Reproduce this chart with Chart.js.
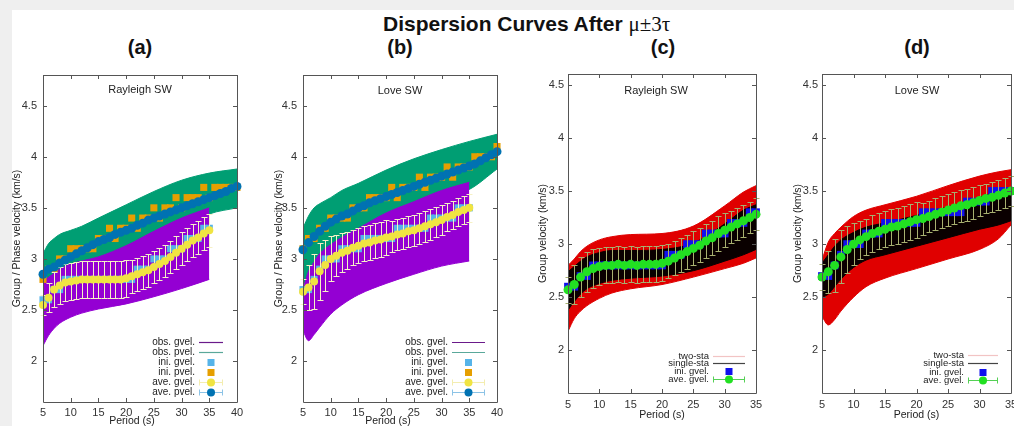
<!DOCTYPE html>
<html>
<head>
<meta charset="utf-8">
<script src="https://cdn.jsdelivr.net/npm/chart.js@4.4.0/dist/chart.umd.min.js"></script>
<style>
html, body { margin: 0; padding: 0; width: 1014px; height: 426px; overflow: hidden; background: #efefef; }
#sheet { position: absolute; left: 12px; top: 10px; width: 1002px; height: 416px; background: #fff; }
canvas { position: absolute; }
.letter { position: absolute; font: bold 20px "Liberation Sans", Arial, sans-serif; line-height: 20px; color: #111; transform: translate(-50%, -50%); white-space: nowrap; }
#title { position: absolute; left: 383px; top: 12px; font: bold 21px "Liberation Sans", Arial, sans-serif; line-height: 21px; color: #111; white-space: nowrap; }
#title span { font: 21px "Liberation Serif", "DejaVu Serif", serif; }
</style>
</head>
<body>
<div id="sheet"></div>
<div id="title">Dispersion Curves After <span>μ±3τ</span></div>
<div class="letter" style="left:140px;top:47px">(a)</div>
<div class="letter" style="left:400px;top:47px">(b)</div>
<div class="letter" style="left:663px;top:47px">(c)</div>
<div class="letter" style="left:917px;top:47px">(d)</div>
<canvas id="chartA"></canvas>
<canvas id="chartB"></canvas>
<canvas id="chartC"></canvas>
<canvas id="chartD"></canvas>
<script>
const FONT = '"Liberation Sans", Arial, sans-serif';

// Periods (s)
const perAB = [5,6,7,8,9,10,11,12,13,14,15,16,17,18,19,20,21,22,23,24,25,26,27,28,29,30,31,32,33,34,35,36,37,38,39,40];
const perCD = [5,6,7,8,9,10,11,12,13,14,15,16,17,18,19,20,21,22,23,24,25,26,27,28,29,30,31,32,33,34,35];
const bandPerP = [5,6,7,8,10,12,15,20,25,30,35,40];
const bandPerG = [5,6,7,8,10,12,15,20,25,30,35];
const bandPerCD = [5,6,7,8,10,12,15,20,25,30,33,35];

// Tick labels
const xTicksAB = [5,10,15,20,25,30,35,40];
const xTicksCD = [5,10,15,20,25,30,35];
const yTicks = [2,2.5,3,3.5,4,4.5];

// (a) Rayleigh, group + phase
const obsPvelUpA = [3.05,3.15,3.2,3.24,3.28,3.32,3.4,3.53,3.66,3.77,3.84,3.88];
const obsPvelLoA = [2.62,2.66,2.7,2.75,2.8,2.85,2.95,3.1,3.2,3.3,3.44,3.5];
const obsGvelUpA = [2.78,2.82,2.86,2.9,2.95,2.98,3.02,3.13,3.27,3.4,3.5];
const obsGvelLoA = [2.15,2.25,2.32,2.37,2.43,2.47,2.51,2.56,2.63,2.71,2.8];
const iniGvelA = [2.6,2.6,2.7,2.7,2.8,2.8,2.8,2.8,2.8,2.8,2.8,2.8,2.8,2.8,2.8,2.8,2.8,2.9,2.9,2.9,3.0,3.0,3.0,3.1,3.1,3.1,3.2,3.2,3.2,3.3,3.3];
const iniPvelA = [2.8,2.9,2.9,3.0,3.0,3.1,3.1,3.1,3.1,3.1,3.2,3.2,3.3,3.2,3.3,3.3,3.4,3.3,3.4,3.4,3.5,3.4,3.5,3.5,3.6,3.5,3.6,3.6,3.6,3.7,3.6,3.7,3.7,3.7,3.7,3.7];
const aveGvelA = [2.55,2.62,2.7,2.74,2.77,2.78,2.79,2.8,2.8,2.8,2.8,2.8,2.8,2.8,2.8,2.81,2.83,2.85,2.87,2.89,2.92,2.95,2.98,3.02,3.06,3.1,3.14,3.18,3.21,3.25,3.28];
const errGvelA = [0.1,0.14,0.17,0.18,0.18,0.18,0.18,0.18,0.18,0.18,0.18,0.18,0.18,0.18,0.18,0.18,0.16,0.16,0.16,0.16,0.16,0.16,0.16,0.16,0.16,0.16,0.16,0.16,0.16,0.16,0.16];
const avePvelA = [2.85,2.9,2.92,2.96,2.99,3.02,3.05,3.08,3.11,3.14,3.17,3.19,3.21,3.24,3.26,3.28,3.3,3.33,3.35,3.38,3.4,3.42,3.44,3.46,3.48,3.5,3.52,3.54,3.56,3.58,3.6,3.62,3.64,3.66,3.69,3.71];

// (b) Love, group + phase
const obsPvelUpB = [3.3,3.42,3.5,3.54,3.6,3.67,3.74,3.87,3.98,4.07,4.15,4.22];
const obsPvelLoB = [2.75,2.8,2.9,3.0,3.1,3.2,3.3,3.4,3.5,3.6,3.68,3.88];
const obsGvelUpB = [2.7,2.88,2.97,3.05,3.14,3.21,3.3,3.45,3.56,3.67,3.75];
const obsGvelLoB = [2.3,2.2,2.26,2.33,2.46,2.55,2.65,2.76,2.85,2.93,2.98];
const iniGvelB = [2.7,2.7,2.8,2.9,3.0,3.0,3.0,3.1,3.1,3.1,3.1,3.2,3.2,3.2,3.2,3.2,3.2,3.3,3.3,3.3,3.3,3.3,3.3,3.4,3.4,3.4,3.4,3.4,3.5,3.5,3.5];
const iniPvelB = [3.1,3.2,3.2,3.3,3.3,3.4,3.4,3.4,3.4,3.5,3.5,3.5,3.6,3.6,3.6,3.6,3.7,3.6,3.7,3.7,3.7,3.8,3.7,3.8,3.8,3.8,3.9,3.8,3.9,3.9,3.9,4.0,4.0,4.0,4.0,4.1];
const aveGvelB = [2.68,2.72,2.78,2.88,2.94,3.0,3.03,3.06,3.08,3.11,3.13,3.15,3.16,3.18,3.19,3.21,3.22,3.24,3.25,3.27,3.28,3.3,3.32,3.34,3.36,3.38,3.41,3.43,3.46,3.48,3.5];
const errGvelB = [0.12,0.22,0.27,0.28,0.25,0.22,0.2,0.19,0.18,0.17,0.17,0.17,0.17,0.17,0.17,0.17,0.15,0.15,0.15,0.15,0.15,0.15,0.15,0.15,0.15,0.15,0.14,0.14,0.14,0.14,0.14];
const avePvelB = [3.09,3.16,3.22,3.27,3.32,3.36,3.39,3.42,3.44,3.47,3.5,3.52,3.55,3.57,3.59,3.61,3.63,3.65,3.67,3.69,3.71,3.73,3.75,3.77,3.79,3.81,3.83,3.85,3.87,3.89,3.91,3.93,3.96,3.99,4.02,4.05];

// (c) Rayleigh, group only
const twoStaUpC = [2.8,2.86,2.93,2.98,3.04,3.07,3.09,3.1,3.17,3.36,3.49,3.55];
const twoStaLoC = [2.18,2.3,2.37,2.42,2.49,2.54,2.58,2.62,2.69,2.77,2.82,2.87];
const singleUpC = [2.74,2.79,2.84,2.88,2.92,2.94,2.94,2.95,3.01,3.19,3.32,3.37];
const singleLoC = [2.38,2.46,2.53,2.58,2.63,2.66,2.68,2.7,2.75,2.84,2.9,2.95];
const iniGvelC = [2.6,2.6,2.7,2.7,2.8,2.8,2.8,2.8,2.8,2.8,2.8,2.8,2.8,2.8,2.8,2.8,2.9,2.9,2.9,3.0,3.0,3.0,3.1,3.1,3.1,3.1,3.2,3.2,3.2,3.3,3.3];
const aveGvelC = [2.57,2.62,2.69,2.74,2.77,2.79,2.8,2.8,2.81,2.8,2.81,2.8,2.81,2.81,2.81,2.82,2.84,2.87,2.9,2.93,2.96,2.99,3.03,3.06,3.1,3.13,3.16,3.19,3.22,3.25,3.28];
const errGvelC = [0.12,0.18,0.19,0.19,0.18,0.17,0.17,0.17,0.17,0.17,0.17,0.17,0.17,0.17,0.17,0.17,0.16,0.16,0.16,0.16,0.16,0.16,0.16,0.16,0.16,0.16,0.15,0.15,0.15,0.15,0.15];

// (d) Love, group only
const twoStaUpD = [2.85,3.02,3.1,3.16,3.26,3.32,3.37,3.45,3.55,3.64,3.68,3.7];
const twoStaLoD = [2.32,2.24,2.29,2.37,2.5,2.6,2.68,2.77,2.86,2.95,3.05,3.18];
const singleUpD = [2.82,2.9,2.98,3.04,3.11,3.16,3.2,3.27,3.35,3.44,3.5,3.52];
const singleLoD = [2.5,2.53,2.6,2.67,2.78,2.85,2.9,2.98,3.06,3.14,3.18,3.22];
const iniGvelD = [2.7,2.7,2.8,2.9,3.0,3.0,3.0,3.1,3.1,3.1,3.2,3.2,3.2,3.2,3.2,3.2,3.3,3.3,3.3,3.3,3.3,3.3,3.3,3.4,3.4,3.4,3.4,3.5,3.5,3.5,3.5];
const aveGvelD = [2.69,2.74,2.8,2.88,2.95,3.0,3.04,3.07,3.1,3.12,3.14,3.16,3.17,3.19,3.21,3.23,3.24,3.26,3.28,3.3,3.32,3.34,3.36,3.37,3.39,3.41,3.43,3.44,3.46,3.48,3.5];
const errGvelD = [0.12,0.2,0.25,0.25,0.22,0.2,0.18,0.17,0.17,0.17,0.17,0.17,0.17,0.17,0.17,0.17,0.15,0.15,0.15,0.15,0.15,0.15,0.15,0.15,0.15,0.15,0.14,0.14,0.14,0.14,0.14];

// colours
const PURPLE = '#9400d3', TEAL = '#009e73', SKY = '#56b4e9', ORANGE = '#e69f00', YELLOW = '#f0e442', NAVY = '#0072b2';
const RED = '#e00000', BLACK = '#0a0000', BLUE = '#1010ee', LIME = '#22e022';

function pts(xs, ys) {
    return ys.map((y, i) => ({ x: xs[i], y: y }));
}

function band(xs, up, lo, color, order) {
    return [
        { data: pts(xs, up), borderWidth: 1, borderColor: color, pointRadius: 0, fill: '+1', backgroundColor: color, order: order, cubicInterpolationMode: 'monotone' },
        { data: pts(xs, lo), borderWidth: 1, borderColor: color, pointRadius: 0, fill: false, order: order, cubicInterpolationMode: 'monotone' },
    ];
}

function marks(xs, ys, color, style, r, order, errs, errColor) {
    return {
        data: pts(xs, ys), showLine: false, pointStyle: style, pointRadius: r, pointHoverRadius: r,
        pointBackgroundColor: color, pointBorderWidth: 0, borderColor: color, backgroundColor: color,
        order: order, clip: false, errs: errs, errColor: errColor,
    };
}

// error bars, drawn just before the dataset they belong to
const errBars = {
    id: 'errBars',
    beforeDatasetDraw(chart, args) {
        const ds = chart.data.datasets[args.index];
        if (!ds.errs) return;
        const xs = chart.scales.x, ys = chart.scales.y, ctx = chart.ctx;
        ctx.save();
        ctx.strokeStyle = ds.errColor;
        ctx.lineWidth = 1;
        ctx.beginPath();
        ds.data.forEach((p, i) => {
            const px = Math.round(xs.getPixelForValue(p.x)) + 0.5;
            const y1 = Math.round(ys.getPixelForValue(p.y + ds.errs[i])) + 0.5;
            const y2 = Math.round(ys.getPixelForValue(p.y - ds.errs[i])) + 0.5;
            ctx.moveTo(px, y1); ctx.lineTo(px, y2);
            ctx.moveTo(px - 3, y1); ctx.lineTo(px + 3, y1);
            ctx.moveTo(px - 3, y2); ctx.lineTo(px + 3, y2);
        });
        ctx.stroke();
        ctx.restore();
    },
};

// gnuplot-like frame, inner tics, titles and key
function frame(cfg, xTicks) {
    return {
        id: 'frame',
        afterDatasetsDraw(chart) {
            const ctx = chart.ctx, a = chart.chartArea;
            const xs = chart.scales.x, ys = chart.scales.y;
            ctx.save();
            ctx.strokeStyle = '#555';
            ctx.lineWidth = 1;
            ctx.beginPath();
            ctx.rect(Math.round(a.left) + 0.5, Math.round(a.top) + 0.5, Math.round(a.right - a.left), Math.round(a.bottom - a.top));
            xTicks.forEach(v => {
                const px = Math.round(xs.getPixelForValue(v)) + 0.5;
                ctx.moveTo(px, a.bottom); ctx.lineTo(px, a.bottom - 4);
                ctx.moveTo(px, a.top); ctx.lineTo(px, a.top + 4);
            });
            yTicks.forEach(v => {
                const py = Math.round(ys.getPixelForValue(v)) + 0.5;
                ctx.moveTo(a.left, py); ctx.lineTo(a.left + 4, py);
                ctx.moveTo(a.right, py); ctx.lineTo(a.right - 4, py);
            });
            ctx.stroke();

            ctx.fillStyle = '#222';
            ctx.textAlign = 'center';
            ctx.textBaseline = 'middle';
            ctx.font = '11px ' + FONT;
            ctx.fillText(cfg.sub, cfg.subX - chart.canvas.offsetLeft, a.top + cfg.subDy);
            ctx.font = '10.5px ' + FONT;
            ctx.fillText('Period (s)', (a.left + a.right) / 2 + cfg.xTitleDx, a.bottom + cfg.xTitleDy);
            ctx.save();
            ctx.translate(a.left + cfg.yTitleDx, (a.top + a.bottom) / 2);
            ctx.rotate(-Math.PI / 2);
            ctx.fillText(cfg.yTitle, 0, 0);
            ctx.restore();

            const k = cfg.key;
            const sEnd = a.right - k.gap, sBeg = sEnd - k.len, sMid = (sBeg + sEnd) / 2;
            ctx.font = k.size + 'px ' + FONT;
            ctx.textAlign = 'right';
            k.items.forEach((it, i) => {
                const y = Math.round(a.bottom - k.bottom - (k.items.length - 1 - i) * k.step) + 0.5;
                ctx.fillStyle = '#222';
                ctx.fillText(it.text, sBeg - 4, y);
                if (it.kind === 'line' || it.kind === 'err') {
                    ctx.strokeStyle = it.line;
                    ctx.lineWidth = it.kind === 'line' ? 1.2 : 1;
                    ctx.beginPath();
                    ctx.moveTo(sBeg, y); ctx.lineTo(sEnd, y);
                    if (it.kind === 'err') {
                        ctx.moveTo(sBeg + 0.5, y - 3); ctx.lineTo(sBeg + 0.5, y + 3);
                        ctx.moveTo(sEnd - 0.5, y - 3); ctx.lineTo(sEnd - 0.5, y + 3);
                    }
                    ctx.stroke();
                }
                if (it.kind === 'rect') {
                    ctx.fillStyle = it.color;
                    ctx.fillRect(sMid - it.r, y - it.r, it.r * 2, it.r * 2);
                }
                if (it.kind === 'err') {
                    ctx.fillStyle = it.color;
                    ctx.beginPath();
                    ctx.arc(sMid, y, it.r, 0, Math.PI * 2);
                    ctx.fill();
                }
            });
            ctx.restore();
        },
    };
}

function makeChart(id, box, xMax, yMin, yMax, xTicks, datasets, cfg) {
    const cv = document.getElementById(id);
    cv.width = box.r - box.l + 44 + 8;
    cv.height = box.b - box.t + 4 + 30;
    cv.style.left = (box.l - 44) + 'px';
    cv.style.top = (box.t - 4) + 'px';
    return new Chart(cv, {
        type: 'line',
        data: { datasets: datasets },
        options: {
            responsive: false,
            animation: false,
            devicePixelRatio: 1,
            events: [],
            layout: { padding: { left: 0, top: 4, right: 8, bottom: 0 }, autoPadding: false },
            plugins: { legend: { display: false }, tooltip: { enabled: false } },
            scales: {
                x: {
                    type: 'linear', min: 5, max: xMax,
                    grid: { display: false, drawTicks: false }, border: { display: false },
                    ticks: { padding: cfg.xPad, color: '#333', font: { family: FONT, size: 11 }, maxRotation: 0, autoSkip: false },
                    afterBuildTicks: s => { s.ticks = xTicks.map(v => ({ value: v })); },
                    afterFit: s => { s.height = 30; s.paddingLeft = 0; s.paddingRight = 0; },
                },
                y: {
                    type: 'linear', min: yMin, max: yMax,
                    grid: { display: false, drawTicks: false }, border: { display: false },
                    ticks: { padding: cfg.yPad, color: '#333', font: { family: FONT, size: 11 }, callback: v => String(v) },
                    afterBuildTicks: s => { s.ticks = yTicks.map(v => ({ value: v })); },
                    afterFit: s => { s.width = 44; s.paddingTop = 0; s.paddingBottom = 0; },
                },
            },
        },
        plugins: [errBars, frame(cfg, xTicks)],
    });
}

const keyAB = [
    { text: 'obs. gvel.', kind: 'line', line: '#6a1a8a' },
    { text: 'obs. pvel.', kind: 'line', line: '#5aa89a' },
    { text: 'ini. gvel.', kind: 'rect', color: SKY, r: 3.5 },
    { text: 'ini. pvel.', kind: 'rect', color: ORANGE, r: 3.5 },
    { text: 'ave. gvel.', kind: 'err', color: YELLOW, line: '#f3edb0', r: 4 },
    { text: 'ave. pvel.', kind: 'err', color: NAVY, line: '#8cc3e6', r: 4 },
];
const keyCD = [
    { text: 'two-sta', kind: 'line', line: '#f2c4c4' },
    { text: 'single-sta', kind: 'line', line: '#444' },
    { text: 'ini. gvel.', kind: 'rect', color: BLUE, r: 3.5 },
    { text: 'ave. gvel.', kind: 'err', color: LIME, line: '#55d055', r: 4 },
];

makeChart('chartA', { l: 43, r: 237, t: 75, b: 402 }, 40, 1.6, 4.8, xTicksAB, [
    ...band(bandPerG, obsGvelUpA, obsGvelLoA, PURPLE, 60),
    ...band(bandPerP, obsPvelUpA, obsPvelLoA, TEAL, 70),
    marks(perCD, iniGvelA, SKY, 'rect', 5, 40),
    marks(perAB, iniPvelA, ORANGE, 'rect', 5, 30),
    marks(perCD, aveGvelA, YELLOW, 'circle', 4, 20, errGvelA, '#f6f1c6'),
    marks(perAB, avePvelA, NAVY, 'circle', 4.5, 10),
], { sub: 'Rayleigh SW', subX: 140, subDy: 15, yTitle: 'Group / Phase velocity (km/s)', yTitleDx: -26, xTitleDx: -8, xTitleDy: 19, xPad: 4, yPad: 6,
     key: { items: keyAB, gap: 14, len: 24, size: 10, step: 10, bottom: 10 } });

makeChart('chartB', { l: 303, r: 497, t: 75, b: 402 }, 40, 1.6, 4.8, xTicksAB, [
    ...band(bandPerG, obsGvelUpB, obsGvelLoB, PURPLE, 60),
    ...band(bandPerP, obsPvelUpB, obsPvelLoB, TEAL, 70),
    marks(perCD, iniGvelB, SKY, 'rect', 5, 40),
    marks(perAB, iniPvelB, ORANGE, 'rect', 5, 30),
    marks(perCD, aveGvelB, YELLOW, 'circle', 4, 20, errGvelB, '#f6f1c6'),
    marks(perAB, avePvelB, NAVY, 'circle', 4.5, 10),
], { sub: 'Love SW', subX: 400, subDy: 16, yTitle: 'Group / Phase velocity (km/s)', yTitleDx: -24, xTitleDx: -12, xTitleDy: 19, xPad: 4, yPad: 6,
     key: { items: keyAB, gap: 12, len: 33, size: 10, step: 10, bottom: 10 } });

makeChart('chartC', { l: 568, r: 756, t: 74, b: 393 }, 35, 1.6, 4.6, xTicksCD, [
    ...band(bandPerCD, twoStaUpC, twoStaLoC, RED, 60),
    ...band(bandPerCD, singleUpC, singleLoC, BLACK, 50),
    marks(perCD, iniGvelC, BLUE, 'rect', 5.5, 30),
    marks(perCD, aveGvelC, LIME, 'circle', 4.5, 20, errGvelC, '#a8b070'),
], { sub: 'Rayleigh SW', subX: 656, subDy: 17, yTitle: 'Group velocity (km/s)', yTitleDx: -25, xTitleDx: 0, xTitleDy: 22, xPad: 5, yPad: 4,
     key: { items: keyCD, gap: 11, len: 32, size: 9.5, step: 7.8, bottom: 14 } });

makeChart('chartD', { l: 822, r: 1011, t: 74, b: 393 }, 35, 1.6, 4.6, xTicksCD, [
    ...band(bandPerCD, twoStaUpD, twoStaLoD, RED, 60),
    ...band(bandPerCD, singleUpD, singleLoD, BLACK, 50),
    marks(perCD, iniGvelD, BLUE, 'rect', 5.5, 30),
    marks(perCD, aveGvelD, LIME, 'circle', 4.5, 20, errGvelD, '#a8b070'),
], { sub: 'Love SW', subX: 917, subDy: 17, yTitle: 'Group velocity (km/s)', yTitleDx: -24, xTitleDx: 0, xTitleDy: 22, xPad: 5, yPad: 4,
     key: { items: keyCD, gap: 13, len: 30, size: 9.5, step: 8.3, bottom: 13 } });
</script>
</body>
</html>
